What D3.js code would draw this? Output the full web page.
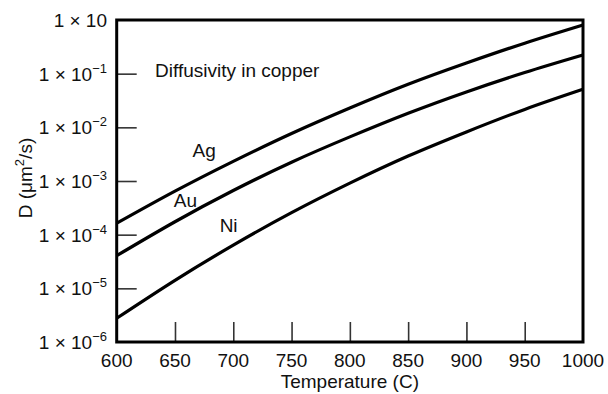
<!DOCTYPE html>
<html>
<head>
<meta charset="utf-8">
<script src="https://cdn.jsdelivr.net/npm/d3@7"></script>
<style>
  html, body { margin: 0; padding: 0; background: #fff; }
  svg { display: block; font-family: "Liberation Sans", Arial, sans-serif; }
</style>
</head>
<body>
<svg id="chart" width="608" height="394"></svg>
<script>
// Data
const temperatures = [600, 650, 700, 750, 800, 850, 900, 950, 1000];
const agValues = [1.63e-4, 6.46e-4, 2.32e-3, 7.67e-3, 2.29e-2, 6.35e-2, 0.158, 0.370, 0.807];
const auValues = [4.06e-5, 1.74e-4, 6.64e-4, 2.24e-3, 6.64e-3, 1.83e-2, 4.57e-2, 0.105, 0.223];
const niValues = [2.77e-6, 1.41e-5, 6.38e-5, 2.57e-4, 9.12e-4, 2.92e-3, 8.22e-3, 2.16e-2, 5.12e-2];
const seriesNames = ["Ag", "Au", "Ni"];
const xTicks = [600, 650, 700, 750, 800, 850, 900, 950, 1000];
const yTicks = [1e-6, 1e-5, 1e-4, 1e-3, 1e-2, 1e-1, 1];
const yTickExponents = ["−6", "−5", "−4", "−3", "−2", "−1", ""];

const svg = d3.select("#chart");
const margin = { left: 116.7, right: 583, top: 20, bottom: 342 };

const x = d3.scaleLinear().domain([600, 1000]).range([margin.left, margin.right]);
const y = d3.scaleLog().domain([1e-6, 1]).range([margin.bottom, margin.top]);

const series = [
  { name: seriesNames[0], values: agValues, label: [675, 150] },
  { name: seriesNames[1], values: auValues, label: [659, 200] },
  { name: seriesNames[2], values: niValues, label: [696, 225] }
];

// inner ticks
const xAxis = d3.axisBottom(x).tickValues(xTicks.slice(1, -1)).tickSize(20).tickFormat("");
const gx = svg.append("g").attr("transform", `translate(0,${margin.bottom})`).call(xAxis);
gx.select(".domain").remove();
gx.selectAll(".tick line").attr("y2", -20).attr("stroke", "#333").attr("stroke-width", 1.6);

const yAxis = d3.axisLeft(y).tickValues(yTicks.slice(1, -1)).tickSize(20).tickFormat("");
const gy = svg.append("g").attr("transform", `translate(${margin.left},0)`).call(yAxis);
gy.select(".domain").remove();
gy.selectAll(".tick line").attr("x2", 20).attr("stroke", "#333").attr("stroke-width", 1.6);

// x tick labels
svg.append("g").selectAll("text").data(xTicks).join("text")
  .attr("x", d => x(d)).attr("y", margin.bottom + 25)
  .attr("text-anchor", "middle").attr("font-size", 19).attr("fill", "#111")
  .text(d => d);

// y tick labels
const ylab = svg.append("g").selectAll("text").data(yTicks).join("text")
  .attr("x", 107).attr("y", d => y(d) + 7)
  .attr("text-anchor", "end").attr("font-size", 19).attr("fill", "#111");
ylab.append("tspan").text("1 × 10");
ylab.append("tspan").attr("font-size", 13).attr("dy", -8)
  .text((d, i) => yTickExponents[i]);

// curves
const line = d3.line().x((d, i) => x(temperatures[i])).y(d => y(d)).curve(d3.curveNatural);
svg.append("g").selectAll("path").data(series).join("path")
  .attr("d", d => line(d.values)).attr("fill", "none")
  .attr("stroke", "#000").attr("stroke-width", 3.2);

// curve labels
svg.append("g").selectAll("text").data(series).join("text")
  .attr("x", d => x(d.label[0])).attr("y", d => d.label[1] + 7)
  .attr("text-anchor", "middle").attr("font-size", 19).attr("fill", "#111")
  .text(d => d.name);

// frame
svg.append("rect")
  .attr("x", margin.left).attr("y", margin.top)
  .attr("width", margin.right - margin.left).attr("height", margin.bottom - margin.top)
  .attr("fill", "none").attr("stroke", "#000").attr("stroke-width", 3);

// annotation
svg.append("text").attr("x", 155).attr("y", 77).attr("font-size", 19).attr("fill", "#111")
  .text("Diffusivity in copper");

// axis titles
svg.append("text").attr("x", (margin.left + margin.right) / 2).attr("y", 388)
  .attr("text-anchor", "middle").attr("font-size", 19).attr("fill", "#111")
  .text("Temperature (C)");

const yt = svg.append("text")
  .attr("transform", "translate(32,178) rotate(-90)")
  .attr("text-anchor", "middle").attr("font-size", 19).attr("fill", "#111");
yt.append("tspan").text("D (μm");
yt.append("tspan").attr("font-size", 13).attr("dy", -8).text("2");
yt.append("tspan").attr("dy", 8).text("/s)");
</script>
</body>
</html>
